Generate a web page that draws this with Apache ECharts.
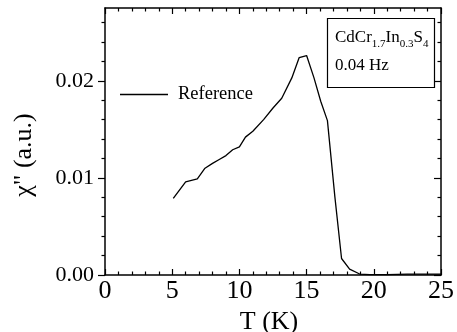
<!DOCTYPE html>
<html>
<head>
<meta charset="utf-8">
<script src="https://cdn.jsdelivr.net/npm/echarts@6/dist/echarts.min.js"></script>
<style>
  html, body { margin: 0; padding: 0; background: #fff; }
  #chart { width: 457px; height: 332px; }
</style>
</head>
<body>
<div id="chart"></div>
<script>
// temperature (K) and chi''
const temps = [5.08, 6.0, 6.87, 7.44, 8.0, 8.5, 9.0, 9.5, 10.0, 10.45, 11.0, 11.8, 12.5, 13.15, 13.9, 14.45, 15.0, 15.55, 16.05, 16.55, 17.1, 17.6, 18.2, 18.95, 19.7, 21.0, 22.5, 24.0, 25.0]
const chi = [0.0079, 0.0096, 0.0099, 0.0110, 0.0115, 0.0119, 0.0123, 0.0129, 0.0132, 0.0142, 0.0148, 0.0160, 0.0172, 0.0182, 0.0203, 0.0224, 0.0226, 0.0203, 0.0179, 0.0159, 0.0081, 0.0017, 0.0006, 0.0001, 0.00003, 0.00004, 0.0001, 0.00008, 0.0001]
const yMajor = [0, 0.01, 0.02]
const yMinor = [0.002, 0.004, 0.006, 0.008, 0.012, 0.014, 0.016, 0.018, 0.022, 0.024, 0.026]
// sample label pieces: [text, isSubscript]
const sampleParts = [['CdCr', false], ['1.7', true], ['In', false], ['0.3', true], ['S', false], ['4', true]]

const font = 'Liberation Serif'
const line = { onZero: false, lineStyle: { color: '#000', width: 1.5 } }
const tickStyle = { color: '#000', width: 1.2 }

const chart = echarts.init(document.getElementById('chart'))

// lay out the formula with real subscripts
const ctx = document.createElement('canvas').getContext('2d')
let cursor = 335
const formula = sampleParts.map(([txt, sub]) => {
  const size = sub ? 11 : 17
  ctx.font = size + 'px "' + font + '"'
  const el = {
    type: 'text',
    x: cursor,
    y: sub ? 50 : 46,
    style: { text: txt, fontFamily: font, fontSize: size, fill: '#000', verticalAlign: 'bottom' }
  }
  cursor += ctx.measureText(txt).width
  return el
})

const xBase = {
  type: 'value',
  min: 0,
  max: 25,
  interval: 5,
  axisLine: line,
  splitLine: { show: false },
  axisTick: { inside: true, length: 6, lineStyle: tickStyle },
  minorTick: { show: true, splitNumber: 5, length: 3.5, lineStyle: tickStyle }
}

const yBase = {
  type: 'value',
  min: 0,
  max: 0.0275,
  splitLine: { show: false },
  axisLabel: { show: false }
}

const option = {
  animation: false,
  grid: { left: 105, right: 16, top: 8, bottom: 57, containLabel: false, outerBoundsMode: 'none' },
  legend: {
    left: 120,
    top: 85,
    padding: 0,
    itemWidth: 48,
    itemHeight: 14,
    textStyle: { fontFamily: font, fontSize: 18.5, color: '#000', padding: [0, 0, 0, 5] },
    data: [{ name: 'Reference', icon: 'path://M0,0 L48,0 L48,1.3 L0,1.3 Z' }]
  },
  xAxis: [
    {
      ...xBase,
      position: 'bottom',
      name: 'T (K)',
      nameLocation: 'middle',
      nameGap: 23,
      nameTextStyle: { fontFamily: font, fontSize: 26, color: '#000', padding: [0, 8, 0, 0] },
      axisLabel: { fontFamily: font, fontSize: 26, color: '#000', margin: 3 }
    },
    {
      ...xBase,
      position: 'top',
      axisLabel: { show: false }
    }
  ],
  yAxis: [
    {
      ...yBase,
      position: 'left',
      axisLine: line,
      axisTick: { inside: false, length: 7, customValues: yMajor, lineStyle: tickStyle },
      axisLabel: {
        show: true,
        customValues: yMajor,
        fontFamily: font,
        fontSize: 22,
        color: '#000',
        margin: 11,
        formatter: (v) => v.toFixed(2)
      },
      name: 'χ" (a.u.)',
      nameLocation: 'middle',
      nameGap: 68,
      nameTextStyle: { fontFamily: font, fontSize: 26, color: '#000', padding: [0, 27, 0, 0] }
    },
    {
      ...yBase,
      position: 'right',
      axisLine: line,
      axisTick: { inside: true, length: 7, customValues: yMajor, lineStyle: tickStyle }
    },
    {
      ...yBase,
      position: 'left',
      axisLine: { show: false, onZero: false },
      axisTick: { inside: false, length: 3.5, customValues: yMinor, lineStyle: tickStyle }
    },
    {
      ...yBase,
      position: 'right',
      axisLine: { show: false, onZero: false },
      axisTick: { inside: true, length: 3.5, customValues: yMinor, lineStyle: tickStyle }
    }
  ],
  graphic: [
    {
      type: 'rect',
      shape: { x: 327.5, y: 18.5, width: 107, height: 69 },
      style: { fill: '#fff', stroke: '#000', lineWidth: 1.2 }
    },
    ...formula,
    {
      type: 'text',
      x: 335,
      y: 74,
      style: { text: '0.04 Hz', fontFamily: font, fontSize: 17, fill: '#000', verticalAlign: 'bottom' }
    }
  ],
  series: [
    {
      name: 'Reference',
      type: 'line',
      xAxisIndex: 0,
      yAxisIndex: 0,
      symbol: 'none',
      lineStyle: { color: '#000', width: 1.3 },
      itemStyle: { color: '#000' },
      data: temps.map((t, i) => [t, chi[i]])
    }
  ]
}

chart.setOption(option)
</script>
</body>
</html>
